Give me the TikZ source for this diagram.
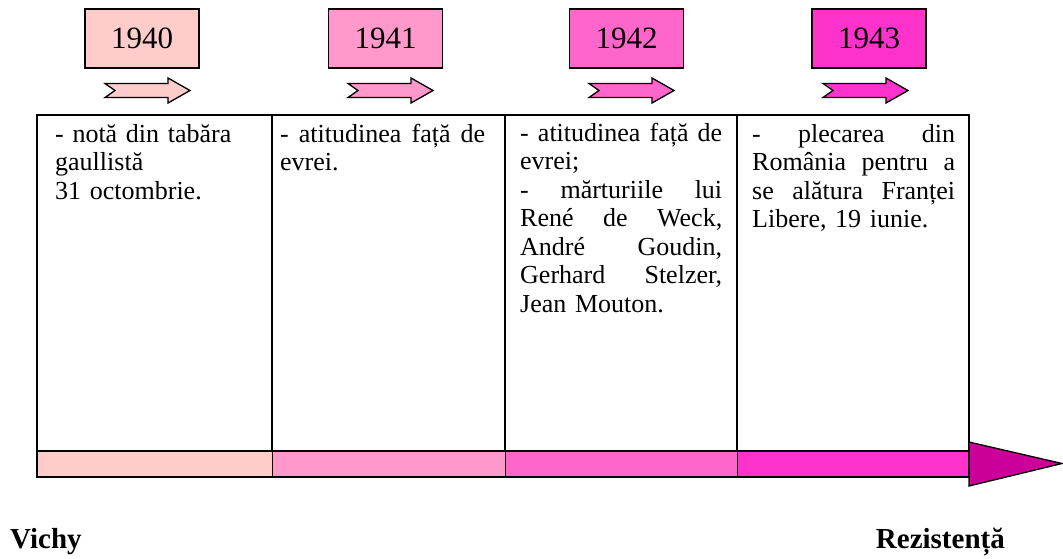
\documentclass[tikz,border=0pt]{standalone}
\usepackage{fontspec}
\setmainfont{Liberation Serif}
\definecolor{cA}{HTML}{FFCCCC}
\definecolor{cB}{HTML}{FF99CC}
\definecolor{cC}{HTML}{FF66CC}
\definecolor{cD}{HTML}{FF33CC}
\definecolor{cE}{HTML}{CC0099}
\newcommand{\fl}{\rule{0pt}{20pt}}
\newcommand{\jl}[2]{\leavevmode\hbox to #1{\spaceskip=0.25em plus 1fil\relax #2}}
\begin{document}
\begin{tikzpicture}[x=1pt,y=-1pt,
  yearbox/.style={draw=black, line width=1.3pt, minimum width=114pt, minimum height=59pt, inner sep=0pt, font=\fontsize{31}{36}\selectfont},
  cell/.style={anchor=north west, inner sep=0pt, align=left, font=\fontsize{26}{28.5}\selectfont},
  label/.style={inner sep=0pt, font=\fontsize{29}{34}\selectfont\bfseries},
  yeararrow/.pic={\draw[line width=1.3pt, line join=miter, fill=#1] (0,-7) -- (63,-7) -- (63,-12.5) -- (85,0) -- (63,12.5) -- (63,7) -- (0,7) -- (10,0) -- cycle;},
  tline/.style={line width=1.5pt}]
\useasboundingbox (0,0) rectangle (1063,558);
% year boxes
\node[yearbox, fill=cA] (y40) at (142,38.5) {1940\hspace{7pt}};
\node[yearbox, fill=cB] (y41) at (385.5,38.5) {1941\hspace{7pt}};
\node[yearbox, fill=cC] (y42) at (626.5,38.5) {1942\hspace{7pt}};
\node[yearbox, fill=cD] (y43) at (869,38.5) {1943\hspace{7pt}};
% small arrows
\pic at (105,90.5) {yeararrow=cA};
\pic at (348,90.5) {yeararrow=cB};
\pic at (589,90.5) {yeararrow=cC};
\pic at (823,90.5) {yeararrow=cD};
% table
\draw[tline] (37,115) rectangle (969,452);
\draw[tline] (272,115) -- (272,452);
\draw[tline] (505,115) -- (505,452);
\draw[tline] (737,115) -- (737,452);
% cells
\node[cell, text width=200pt] (t1) at (55,122) {\fl- notă din tabăra\\gaullistă\\31 octombrie.};
\node[cell, text width=205pt] (t2) at (280,122) {\fl\jl{205pt}{- atitudinea față de}\\evrei.};
\node[cell, text width=202pt] (t3) at (520,121) {\fl\jl{202pt}{- atitudinea față de}\\evrei;\\\jl{202pt}{- mărturiile lui}\\\jl{202pt}{René de Weck,}\\\jl{202pt}{André Goudin,}\\\jl{202pt}{Gerhard Stelzer,}\\Jean Mouton.};
\node[cell, text width=203pt] (t4) at (752,122) {\fl\jl{203pt}{- plecarea din}\\\jl{203pt}{România pentru a}\\\jl{203pt}{se alătura Franței}\\Libere, 19 iunie.};
% timeline bar
\fill[cA] (37,451) rectangle (272,477);
\fill[cB] (272,451) rectangle (505,477);
\fill[cC] (505,451) rectangle (737,477);
\fill[cD] (737,451) rectangle (969,477);
\draw[line width=1pt] (272,451) -- (272,477) (505,451) -- (505,477) (737,451) -- (737,477);
\draw[line width=2.5pt] (37,451) rectangle (969,477);
\draw[line width=1.3pt, fill=cE, line join=miter] (969,442) -- (1062,463.5) -- (969,486) -- cycle;
% labels
\node[label, anchor=base west] (vichy) at (10,548) {Vichy};
\node[label, anchor=base east] (rez) at (1005,548) {Rezistență};
\end{tikzpicture}
\end{document}
